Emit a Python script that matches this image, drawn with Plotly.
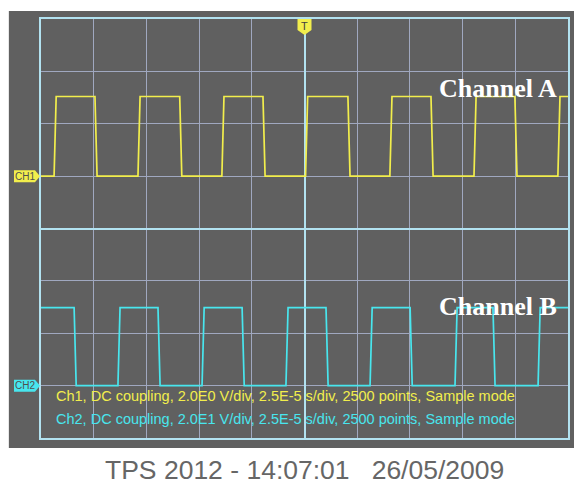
import plotly.graph_objects as go

# --- SCOPE SETTINGS ---
TIME_PER_DIV_US = 25.0     # 2.5E-5 s/div
H_DIVS = 10
V_DIVS = 8
TRIGGER_US = 0.0
EDGE_US = 1.0              # rise / fall time of the edges

# --- CHANNEL 1 (yellow) ---
CH1_VOLTS_PER_DIV = 2.0
CH1_OFFSET_DIV = 1.0
CH1_LEVELS_V = [0.0, 3.04]            # low, high
CH1_STARTS_HIGH = False
CH1_RISE_US = [-118.8, -79.0, -39.2, 0.5, 40.5, 80.4, 120.2]
CH1_FALL_US = [-99.4, -59.2, -19.7, 20.6, 60.0, 99.8]

# --- CHANNEL 2 (cyan) ---
CH2_VOLTS_PER_DIV = 20.0
CH2_OFFSET_DIV = -3.0
CH2_LEVELS_V = [0.0, 29.8]
CH2_STARTS_HIGH = True
CH2_FALL_US = [-109.3, -69.5, -29.6, 10.2, 50.1, 89.4]
CH2_RISE_US = [-88.5, -48.6, -8.8, 31.1, 71.4, 110.8]

INFO_LINES = [
    "Ch1, DC coupling, 2.0E0 V/div, 2.5E-5 s/div, 2500 points, Sample mode",
    "Ch2, DC coupling, 2.0E1 V/div, 2.5E-5 s/div, 2500 points, Sample mode",
]
FOOTER = "TPS 2012 - 14:07:01\u00a0\u00a0\u00a026/05/2009"

# --- COLOURS ---
SCREEN = "#606060"
GRID = "#a0a8c0"
FRAME = "#b2e2f0"
YELLOW = "#f2ee4c"
CYAN = "#48e6ee"

t_min = -TIME_PER_DIV_US * H_DIVS / 2
t_max = TIME_PER_DIV_US * H_DIVS / 2


def square_wave(rises, falls, levels, starts_high):
    edges = sorted([(t, 1) for t in rises] + [(t, 0) for t in falls])
    state = 1 if starts_high else 0
    xs, ys = [t_min], [levels[state]]
    for t, new in edges:
        xs += [t, t + EDGE_US]
        ys += [levels[state], levels[new]]
        state = new
    xs.append(t_max)
    ys.append(levels[state])
    return xs, ys


def to_div(volts, vdiv, offset):
    return [offset + v / vdiv for v in volts]


x1, v1 = square_wave(CH1_RISE_US, CH1_FALL_US, CH1_LEVELS_V, CH1_STARTS_HIGH)
x2, v2 = square_wave(CH2_RISE_US, CH2_FALL_US, CH2_LEVELS_V, CH2_STARTS_HIGH)

fig = go.Figure()
fig.add_trace(go.Scatter(x=x1, y=to_div(v1, CH1_VOLTS_PER_DIV, CH1_OFFSET_DIV),
                         mode="lines", line=dict(color=YELLOW, width=1.7),
                         hoverinfo="skip", showlegend=False))
fig.add_trace(go.Scatter(x=x2, y=to_div(v2, CH2_VOLTS_PER_DIV, CH2_OFFSET_DIV),
                         mode="lines", line=dict(color=CYAN, width=1.7),
                         hoverinfo="skip", showlegend=False))

# grey screen behind everything
fig.add_shape(type="rect", xref="paper", yref="paper",
              x0=-0.061, x1=1.04, y0=-0.024, y1=1.019,
              fillcolor=SCREEN, line_width=0, layer="below")

# channel markers on the left
for name, offset, col in [("CH1", CH1_OFFSET_DIV, YELLOW), ("CH2", CH2_OFFSET_DIV, CYAN)]:
    fig.add_shape(type="path", xref="paper", yref="y", ysizemode="pixel", yanchor=offset,
                  path="M-0.0512,6 L-0.0114,6 L-0.0019,0 L-0.0114,-6 L-0.0512,-6 Z",
                  fillcolor=col, line_width=0)
    fig.add_annotation(x=-0.0313, y=offset, xref="paper", yref="y", text=name,
                       xanchor="center", yanchor="middle", showarrow=False,
                       font=dict(family="Arial", size=10, color="#505050"))

# trigger marker at the top
fig.add_shape(type="path", xref="x", xsizemode="pixel", xanchor=TRIGGER_US, yref="paper",
              path="M-7,1.0 L7,1.0 L7,0.974 L0,0.962 L-7,0.974 Z",
              fillcolor=YELLOW, line_width=0)
fig.add_annotation(x=TRIGGER_US, y=0.984, xref="x", yref="paper", text="T", showarrow=False,
                   xanchor="center", yanchor="middle",
                   font=dict(family="Arial", size=11, color="#404040"))

# channel names
for label, ylab in [("Channel A", 2.68), ("Channel B", -1.48)]:
    fig.add_annotation(x=91.6, y=ylab, text=label, showarrow=False,
                       xanchor="center", yanchor="middle",
                       font=dict(family="Liberation Serif, Times New Roman, serif",
                                 size=26, color="white", weight="bold"))

# info lines
for line, ypos, col in zip(INFO_LINES, [0.0998, 0.045], [YELLOW, CYAN]):
    fig.add_annotation(x=0.0247, y=ypos, xref="paper", yref="paper", text=line,
                       xanchor="left", yanchor="middle", showarrow=False,
                       font=dict(family="Liberation Sans, Arial", size=14.5, color=col))

fig.add_annotation(x=0.5, y=-0.076, xref="paper", yref="paper", text=FOOTER,
                   xanchor="center", yanchor="middle", showarrow=False,
                   font=dict(family="Liberation Sans, Arial", size=26.5, color="#666666"))

fig.update_xaxes(range=[t_min, t_max], dtick=TIME_PER_DIV_US, tick0=0,
                 showticklabels=False, ticks="", gridcolor=GRID, gridwidth=1,
                 zeroline=True, zerolinecolor=FRAME, zerolinewidth=2,
                 showline=True, mirror=True, linecolor=FRAME, linewidth=2)
fig.update_yaxes(range=[-V_DIVS / 2, V_DIVS / 2], dtick=1, tick0=0,
                 showticklabels=False, ticks="", gridcolor=GRID, gridwidth=1,
                 zeroline=True, zerolinecolor=FRAME, zerolinewidth=2,
                 showline=True, mirror=True, linecolor=FRAME, linewidth=2)

# page body adds 8px, so the figure is sized to fit the window
fig.update_layout(width=574, height=478,
                  margin=dict(l=33, r=14, t=9, b=48),
                  paper_bgcolor="white", plot_bgcolor=SCREEN,
                  showlegend=False, hovermode=False)

fig.write_html("out.html")
